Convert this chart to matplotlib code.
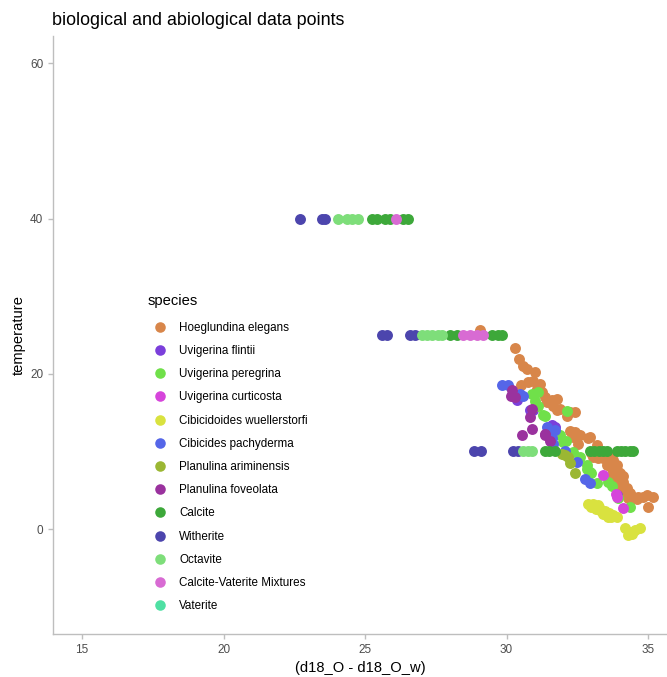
import numpy as np
import matplotlib.pyplot as plt
from matplotlib.lines import Line2D

plt.rcParams['font.family'] = ['Liberation Sans', 'DejaVu Sans']

# species names and colours (legend order)
species = [
    "Hoeglundina elegans", "Uvigerina flintii", "Uvigerina peregrina",
    "Uvigerina curticosta", "Cibicidoides wuellerstorfi", "Cibicides pachyderma",
    "Planulina ariminensis", "Planulina foveolata", "Calcite", "Witherite",
    "Octavite", "Calcite-Vaterite Mixtures", "Vaterite",
]
colors = [
    "#D8864A", "#7B3FDB", "#70E04A", "#D645DB", "#D9E23F", "#5566E8",
    "#9BB733", "#9A329E", "#3DA83A", "#4C45AD", "#7EDE7A", "#D86BD3", "#4FE0A3",
]

# (d18_O - d18_O_w) and temperature per species
hoeg_x = [29.06, 30.30, 30.45, 30.59, 30.71, 31.01, 30.50, 30.76, 30.93, 31.18, 31.07,
          31.24, 31.36, 31.42, 31.60, 31.77, 31.65, 31.89, 32.12, 32.42, 31.77, 32.24,
          32.24, 32.42, 32.53, 32.35, 32.60, 32.95, 32.54, 33.18, 32.88, 33.07, 33.24,
          33.41, 33.59, 33.77, 33.54, 33.72, 33.89, 34.01, 33.72, 33.89, 34.13, 34.01,
          34.24, 34.19, 34.36, 34.48, 34.66, 34.83, 34.95, 35.19, 35.01, 34.29, 33.30,
          33.00, 33.60, 33.90, 34.10, 34.60, 34.40]
hoeg_y = [25.6, 23.3, 21.9, 21.0, 20.6, 20.2, 18.6, 19.0, 19.1, 18.7, 18.1,
          17.7, 17.0, 16.4, 16.6, 16.8, 15.9, 15.5, 14.6, 15.1, 15.3, 15.1,
          12.7, 12.5, 12.1, 11.9, 12.1, 11.9, 11.0, 10.8, 11.8, 9.3, 9.1,
          9.1, 8.9, 8.9, 8.2, 7.8, 7.6, 7.2, 6.8, 6.3, 6.1, 5.5,
          5.3, 4.8, 4.6, 4.2, 4.2, 4.2, 4.4, 4.1, 2.8, 4.0, 10.0,
          9.8, 9.6, 8.3, 6.8, 3.9, 3.9]

flint_x = [30.36, 30.83, 30.94, 31.72, 31.62, 33.90]
flint_y = [16.6, 15.4, 15.3, 13.2, 13.4, 4.4]

pereg_x = [30.89, 31.12, 31.36, 32.12, 31.89, 31.30, 32.00, 32.36, 32.60, 32.83, 32.95,
           33.18, 33.60, 33.71, 33.94, 34.36, 33.00, 32.83, 31.00, 31.10, 32.10]
pereg_y = [17.4, 15.9, 14.6, 15.2, 12.1, 14.7, 11.2, 9.9, 9.3, 8.2, 7.4,
           5.9, 6.1, 5.5, 4.0, 2.8, 7.2, 7.8, 16.5, 17.7, 11.3]

curti_x = [33.42, 33.89, 34.13, 33.85]
curti_y = [7.0, 4.2, 2.7, 4.5]

wuell_x = [32.88, 33.06, 33.23, 33.16, 33.34, 33.48, 33.62, 33.76, 33.90, 33.41, 33.59,
           33.27, 33.69, 32.99, 34.19, 34.36, 34.54, 34.72, 34.43, 34.29]
wuell_y = [3.2, 3.3, 3.1, 2.6, 2.4, 2.3, 2.05, 1.8, 1.55, 1.9, 1.55,
           2.8, 1.55, 2.8, 0.1, -0.4, -0.1, 0.1, -0.6, -0.7]

pachy_x = [29.83, 30.05, 30.48, 30.58, 31.60, 31.50, 31.60, 31.42, 31.54, 31.65, 32.48,
           32.77, 32.95, 32.07, 31.70]
pachy_y = [18.6, 18.5, 17.4, 17.2, 12.6, 12.1, 11.7, 13.2, 12.1, 11.0, 8.7,
           6.5, 5.9, 10.0, 12.8]

arim_x = [32.07, 32.18, 32.42, 31.95, 32.24]
arim_y = [9.5, 9.3, 7.2, 9.7, 8.5]

fove_x = [30.18, 30.15, 30.83, 30.89, 30.54, 30.89, 31.36, 31.36, 31.54, 30.30]
fove_y = [17.9, 17.2, 14.4, 15.5, 12.1, 12.9, 12.3, 12.1, 11.3, 17.0]

calc_x = [25.25, 25.42, 25.71, 25.88, 26.34, 26.52, 28.00, 28.25, 29.49, 29.70, 29.84,
          31.36, 31.50, 31.70, 32.95, 33.10, 33.25, 33.40, 33.55, 33.90, 34.05, 34.20,
          34.35, 34.47]
calc_y = [40, 40, 40, 40, 40, 40, 25, 25, 25, 25, 25,
          10, 10, 10, 10, 10, 10, 10, 10, 10, 10, 10,
          10, 10]

with_x = [22.70, 23.48, 23.59, 25.60, 25.78, 26.59, 26.77, 28.85, 29.10, 30.23, 30.40]
with_y = [40, 40, 40, 25, 25, 25, 25, 10, 10, 10, 10]

octa_x = [24.05, 24.36, 24.54, 24.75, 27.01, 27.19, 27.37, 27.58, 27.72, 30.58, 30.75, 30.90]
octa_y = [40, 40, 40, 40, 25, 25, 25, 25, 25, 10, 10, 10]

mix_x = [26.10, 28.46, 28.71, 28.96, 29.17]
mix_y = [40, 25, 25, 25, 25]

vat_x = []
vat_y = []

series = [
    (hoeg_x, hoeg_y), (flint_x, flint_y), (pereg_x, pereg_y), (curti_x, curti_y),
    (wuell_x, wuell_y), (pachy_x, pachy_y), (arim_x, arim_y), (fove_x, fove_y),
    (calc_x, calc_y), (with_x, with_y), (octa_x, octa_y), (mix_x, mix_y), (vat_x, vat_y),
]

fig = plt.figure(figsize=(6.67, 6.77), dpi=100)
ax = fig.add_axes([53 / 667, 43 / 677, 1 - 53 / 667, (634 - 36) / 677])

for (xs, ys), c in zip(series, colors):
    if xs:
        ax.scatter(xs, ys, s=62, color=c, linewidths=0, zorder=2)

ax.set_xlim(13.97, 35.67)
ax.set_ylim(-13.5, 63.5)
ax.set_xticks([15, 20, 25, 30, 35])
ax.set_yticks([0, 20, 40, 60])

grey = "#BEBEBE"
for side in ["top", "right"]:
    ax.spines[side].set_visible(False)
for side in ["left", "bottom"]:
    ax.spines[side].set_color(grey)
    ax.spines[side].set_linewidth(1.0)
ax.tick_params(colors=grey, labelcolor="#4D4D4D", labelsize=8.5, length=3.5, width=1.0)

ax.set_xlabel("(d18_O - d18_O_w)", fontsize=10.6, labelpad=4)
ax.set_ylabel("temperature", fontsize=10.6, labelpad=3)
fig.text(52 / 667, 1 - 25 / 677, "biological and abiological data points",
         fontsize=12.9, ha="left", va="baseline")

handles = [Line2D([], [], marker="o", linestyle="none", markersize=7.6,
                  markerfacecolor=c, markeredgewidth=0) for c in colors]
leg = fig.legend(handles, species, title="species", loc="upper left",
                 bbox_to_anchor=(148 / 667, 1 - 294 / 677), frameon=False,
                 fontsize=8.4, title_fontsize=10.6, labelspacing=0.96,
                 handlelength=2.06, handletextpad=0.6, borderpad=0, borderaxespad=0)
leg._legend_box.align = "left"
leg._legend_box.sep = 10

fig.savefig("out.png", dpi=100)
